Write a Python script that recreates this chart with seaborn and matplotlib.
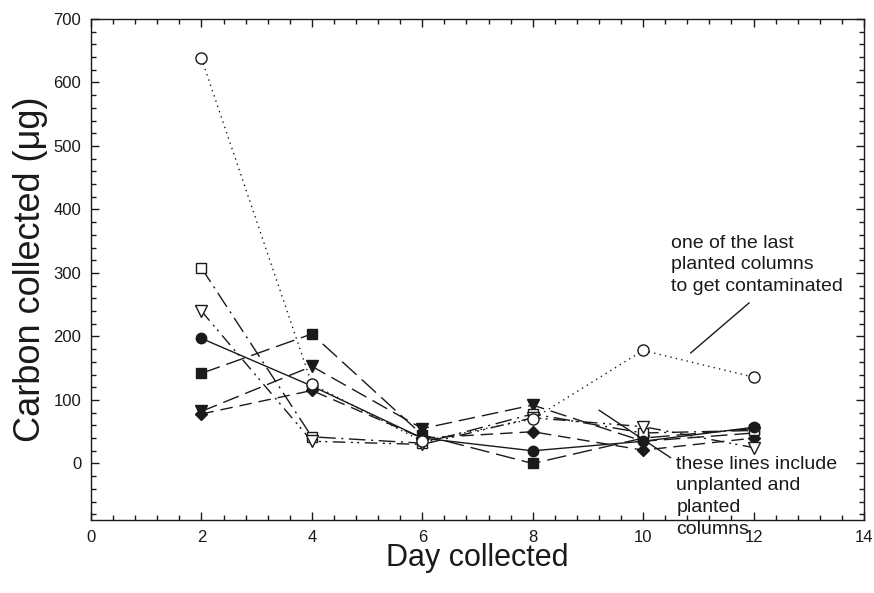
import matplotlib
matplotlib.use("Agg")
import matplotlib.pyplot as plt
import seaborn as sns
import pandas as pd
from matplotlib.ticker import MultipleLocator

days = [2, 4, 6, 8, 10, 12]
open_circle = [638, 125, 35, 70, 178, 136]
filled_circle = [197, 122, 40, 20, 35, 57]
filled_square = [142, 204, 45, 0, 40, 55]
filled_triangle = [82, 153, 55, 92, 35, 48]
filled_diamond = [78, 115, 40, 50, 21, 40]
open_square = [308, 42, 32, 78, 48, 52]
open_triangle = [240, 35, 30, 72, 58, 25]

x_label = "Day collected"
y_label = "Carbon collected (\u03bcg)"
note_top = "one of the last\nplanted columns\nto get contaminated"
note_bottom = "these lines include\nunplanted and\nplanted\ncolumns"

sns.set_theme(style="ticks")
plt.rcParams['font.family'] = ['Liberation Sans', 'DejaVu Sans']

fig = plt.figure(figsize=(8.74, 5.93), dpi=100)
ax = fig.add_axes([91 / 874, 73 / 593, (864 - 91) / 874, (520 - 19) / 593])

series = [
    (filled_square, 's', 'k', (0, (14, 5)), 7),
    (filled_triangle, 'v', 'k', (0, (12, 5)), 8),
    (filled_diamond, 'D', 'k', (0, (9, 5)), 6.5),
    (open_square, 's', 'w', (0, (12, 4, 1.5, 4)), 7),
    (open_triangle, 'v', 'w', (0, (9, 4, 1.5, 3, 1.5, 4)), 8),
    (filled_circle, 'o', 'k', '-', 7.5),
    (open_circle, 'o', 'w', (0, (1, 3)), 8),
]

for vals, mk, fc, ls, ms in series:
    df = pd.DataFrame({"day": days, "carbon": vals})
    sns.lineplot(data=df, x="day", y="carbon", ax=ax, color='k', linewidth=1,
                 linestyle=ls, marker=mk, markersize=ms, markerfacecolor=fc,
                 markeredgecolor='k', markeredgewidth=1, legend=False)

ax.set_xlim(0, 14)
ax.set_ylim(-89, 700)
ax.xaxis.set_major_locator(MultipleLocator(2))
ax.xaxis.set_minor_locator(MultipleLocator(0.4))
ax.yaxis.set_major_locator(MultipleLocator(100))
ax.yaxis.set_minor_locator(MultipleLocator(20))
ax.tick_params(which='both', direction='in', top=True, right=True, color='k',
               width=1, labelsize=12, labelcolor='k', pad=7)
ax.tick_params(which='major', length=6)
ax.tick_params(which='minor', length=3.5)
for s in ax.spines.values():
    s.set_visible(True)
    s.set_color('k')
    s.set_linewidth(1)

ax.set_xlabel(x_label, fontsize=22, labelpad=-1, color='k')
ax.set_ylabel(y_label, fontsize=26, labelpad=4, color='k')

ax.text(10.5, 360, note_top, ha='left', va='top', fontsize=14, color='k', linespacing=1.35)
ax.plot([11.92, 10.86], [253, 174], color='k', linewidth=1)
ax.text(10.6, 12, note_bottom, ha='left', va='top', fontsize=14, color='k', linespacing=1.35)
ax.plot([10.5, 9.2], [9, 84], color='k', linewidth=1)

fig.savefig("out.png", dpi=100)
